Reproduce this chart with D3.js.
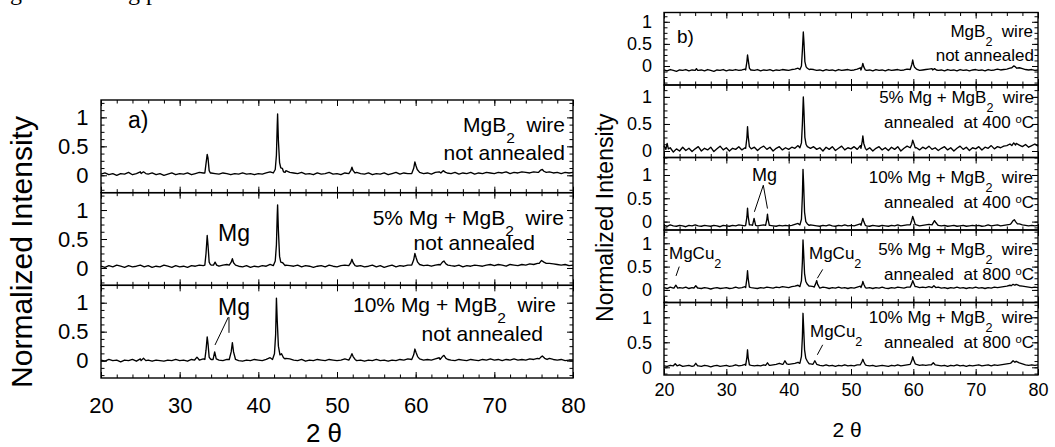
<!DOCTYPE html>
<html>
<head>
<meta charset="utf-8">
<script src="https://cdn.jsdelivr.net/npm/d3@7"></script>
<style>
  body { margin: 0; background: #fff; }
  svg { display: block; font-family: "Liberation Sans", Arial, sans-serif; }
</style>
</head>
<body>
<svg width="1055" height="447"></svg>
<script>
// ---- data ----
const gridStart = 20, gridStep = 0.5;   // baseline readings every 0.5 deg, 20..80
const xTicks = [20, 30, 40, 50, 60, 70, 80];
const yTicks = [0, 0.5, 1];

// panel a: not annealed wires
const baseA1 = [
  0.02,0.04,0.01,0.03,0.00,0.03,0.02,0.05,0.01,0.03,
  0.06,0.03,0.02,0.04,0.01,0.03,0.00,0.02,0.04,0.01,
  0.03,0.02,0.04,0.01,0.03,0.05,0.04,0.05,0.04,0.03,
  0.02,0.04,0.03,0.01,0.03,0.02,0.04,0.02,0.03,0.01,
  0.03,0.02,0.04,0.06,0.08,0.10,0.12,0.08,0.05,0.04,
  0.03,0.05,0.02,0.03,0.01,0.04,0.02,0.03,0.05,0.02,
  0.03,0.01,0.04,0.06,0.08,0.05,0.03,0.02,0.04,0.01,
  0.03,0.02,0.04,0.01,0.03,0.05,0.02,0.04,0.03,0.06,
  0.12,0.05,0.03,0.04,0.02,0.05,0.06,0.07,0.04,0.03,
  0.05,0.02,0.04,0.03,0.05,0.02,0.04,0.03,0.05,0.04,
  0.03,0.05,0.04,0.06,0.03,0.05,0.04,0.06,0.05,0.04,
  0.06,0.05,0.07,0.10,0.06,0.04,0.05,0.03,0.05,0.04,
  0.05
];
const peaksA1 = [
  [[25.1,0.03],[25.4,0.06],[25.7,0.03]],
  [[33.2,0.04],[33.35,0.2],[33.5,0.36],[33.6,0.3],[33.75,0.08],[33.9,0.04]],
  [[41.9,0.04],[42.15,0.1],[42.3,0.35],[42.4,0.85],[42.45,1.06],[42.55,0.6],[42.7,0.22],[42.85,0.13],[43.05,0.12],[43.2,0.06],[43.4,0.05]],
  [[51.5,0.03],[51.75,0.08],[51.9,0.14],[52.05,0.08],[52.3,0.04]],
  [[59.5,0.03],[59.75,0.12],[59.9,0.23],[60.05,0.16],[60.2,0.1],[60.5,0.05]],
  [[63.2,0.04],[63.5,0.08],[63.8,0.05]],
  [[75.6,0.05],[75.9,0.09],[76.1,0.1],[76.3,0.07],[76.6,0.05]]
];

const baseA2 = [
  0.03,0.01,0.04,0.02,0.05,0.03,0.01,0.04,0.02,0.03,
  0.05,0.02,0.04,0.01,0.03,0.02,0.05,0.03,0.01,0.04,
  0.02,0.03,0.01,0.04,0.03,0.05,0.04,0.06,0.05,0.04,
  0.03,0.05,0.06,0.08,0.04,0.03,0.02,0.04,0.01,0.03,
  0.02,0.04,0.03,0.06,0.10,0.10,0.08,0.05,0.04,0.03,
  0.05,0.02,0.04,0.03,0.01,0.03,0.04,0.02,0.05,0.03,
  0.02,0.04,0.05,0.08,0.05,0.03,0.04,0.02,0.03,0.05,
  0.02,0.04,0.01,0.03,0.05,0.02,0.04,0.03,0.05,0.06,
  0.10,0.06,0.04,0.05,0.03,0.05,0.06,0.08,0.05,0.04,
  0.03,0.05,0.02,0.04,0.03,0.05,0.04,0.03,0.05,0.06,
  0.04,0.06,0.05,0.03,0.06,0.05,0.04,0.06,0.05,0.07,
  0.06,0.08,0.10,0.12,0.08,0.07,0.06,0.05,0.06,0.04,
  0.05
];
const peaksA2 = [
  [[33.2,0.05],[33.35,0.25],[33.5,0.56],[33.6,0.4],[33.75,0.1],[33.9,0.06]],
  [[34.3,0.05],[34.5,0.1],[34.7,0.05]],
  [[36.3,0.05],[36.55,0.1],[36.7,0.16],[36.85,0.09],[37.1,0.05]],
  [[41.9,0.04],[42.15,0.12],[42.3,0.4],[42.4,0.9],[42.45,1.09],[42.55,0.65],[42.7,0.2],[42.85,0.1],[43.1,0.09],[43.4,0.04]],
  [[51.5,0.04],[51.75,0.09],[51.9,0.15],[52.05,0.09],[52.3,0.04]],
  [[59.5,0.05],[59.75,0.14],[59.9,0.25],[60.05,0.18],[60.25,0.1],[60.5,0.06]],
  [[63.1,0.05],[63.4,0.1],[63.6,0.12],[63.85,0.07],[64.1,0.05]],
  [[75.7,0.08],[76.0,0.13],[76.3,0.1],[76.6,0.08]]
];

const baseA3 = [
  0.01,-0.01,0.02,0.00,0.01,-0.02,0.01,0.00,0.02,-0.01,
  0.03,0.00,0.01,-0.01,0.01,0.00,-0.01,0.01,0.00,0.02,
  0.00,0.01,-0.01,0.02,0.01,0.00,0.03,0.05,0.02,0.04,
  0.01,0.00,0.02,0.04,0.01,0.00,-0.01,0.01,0.00,0.02,
  0.01,0.00,0.02,0.05,0.08,0.10,0.08,0.04,0.03,0.01,
  0.00,0.02,-0.01,0.01,0.00,0.02,0.01,0.00,0.02,0.01,
  0.00,0.01,0.03,0.06,0.02,0.00,0.01,-0.01,0.01,0.00,
  0.02,0.00,0.01,-0.01,0.01,0.00,0.02,0.01,0.03,0.05,
  0.10,0.03,0.01,0.02,0.01,0.03,0.05,0.06,0.03,0.01,
  0.00,0.02,0.01,0.00,0.02,0.01,0.00,0.02,0.01,0.03,
  0.01,0.02,0.00,0.02,0.01,0.03,0.01,0.02,0.01,0.03,
  0.02,0.04,0.06,0.07,0.04,0.02,0.01,0.02,0.00,0.01,
  0.01
];
const peaksA3 = [
  [[25.1,0.0],[25.4,0.04],[25.7,0.0]],
  [[31.9,0.01],[32.2,0.06],[32.5,0.01]],
  [[33.2,0.02],[33.35,0.18],[33.5,0.41],[33.6,0.3],[33.75,0.06],[33.9,0.03]],
  [[34.25,0.02],[34.45,0.15],[34.65,0.03]],
  [[36.3,0.02],[36.55,0.15],[36.7,0.31],[36.85,0.15],[37.1,0.02]],
  [[41.8,0.02],[42.05,0.12],[42.2,0.45],[42.3,1.08],[42.4,0.7],[42.55,0.25],[42.75,0.1],[42.95,0.12],[43.2,0.05],[43.4,0.03]],
  [[51.5,0.01],[51.75,0.07],[51.9,0.12],[52.05,0.07],[52.3,0.02]],
  [[59.5,0.02],[59.75,0.1],[59.9,0.2],[60.05,0.14],[60.25,0.07],[60.5,0.03]],
  [[63.1,0.02],[63.4,0.07],[63.6,0.09],[63.85,0.04],[64.1,0.02]],
  [[75.7,0.03],[76.0,0.07],[76.1,0.08],[76.4,0.04],[76.7,0.02]]
];

// panel b: annealing series
const baseB1 = [
  -0.09,-0.11,-0.08,-0.10,-0.12,-0.09,-0.10,-0.08,-0.11,-0.09,
  -0.07,-0.10,-0.09,-0.11,-0.08,-0.10,-0.12,-0.09,-0.10,-0.08,
  -0.11,-0.09,-0.10,-0.08,-0.10,-0.09,-0.07,-0.06,-0.09,-0.10,
  -0.08,-0.11,-0.09,-0.10,-0.08,-0.11,-0.09,-0.10,-0.08,-0.09,
  -0.10,-0.08,-0.07,-0.05,-0.03,-0.02,-0.04,-0.07,-0.08,-0.10,
  -0.09,-0.11,-0.08,-0.10,-0.09,-0.11,-0.08,-0.10,-0.09,-0.08,
  -0.10,-0.09,-0.07,-0.04,-0.08,-0.10,-0.09,-0.11,-0.08,-0.10,
  -0.09,-0.11,-0.08,-0.10,-0.09,-0.08,-0.10,-0.09,-0.07,-0.06,
  -0.05,-0.08,-0.10,-0.09,-0.08,-0.07,-0.06,-0.08,-0.10,-0.09,
  -0.11,-0.08,-0.10,-0.09,-0.11,-0.08,-0.10,-0.09,-0.11,-0.09,
  -0.08,-0.10,-0.09,-0.11,-0.08,-0.10,-0.09,-0.07,-0.09,-0.08,
  -0.07,-0.05,-0.03,-0.02,-0.04,-0.06,-0.08,-0.09,-0.08,-0.10,
  -0.09
];
const peaksB1 = [
  [[25.0,-0.1],[25.2,-0.06],[25.4,-0.1]],
  [[33.1,-0.09],[33.3,0.1],[33.4,0.25],[33.5,0.15],[33.7,-0.05],[33.9,-0.09]],
  [[41.8,-0.08],[42.05,0.0],[42.2,0.35],[42.35,0.77],[42.45,0.55],[42.6,0.1],[42.8,-0.02],[43.0,-0.05],[43.3,-0.08]],
  [[51.6,-0.09],[51.8,0.0],[51.9,0.06],[52.05,-0.02],[52.3,-0.09]],
  [[59.5,-0.08],[59.75,0.03],[59.9,0.135],[60.05,0.03],[60.2,-0.03],[60.5,-0.07]],
  [[63.1,-0.09],[63.4,-0.06],[63.7,-0.09]],
  [[75.8,-0.04],[76.1,0.0],[76.3,-0.01],[76.6,-0.05]]
];

const baseB2 = [
  0.10,0.02,0.06,-0.02,0.04,0.00,0.07,0.01,0.05,-0.01,
  0.04,0.08,0.00,0.05,0.02,0.07,-0.01,0.04,0.09,0.02,
  0.06,0.00,0.05,0.03,0.08,0.02,0.06,0.10,0.04,0.07,
  0.01,0.06,0.09,0.03,0.07,0.00,0.05,0.08,0.02,0.06,
  0.03,0.07,0.05,0.10,0.14,0.12,0.09,0.05,0.08,0.03,
  0.06,0.00,0.07,0.03,0.08,0.01,0.05,0.09,0.02,0.06,
  0.04,0.08,0.03,0.10,0.07,0.02,0.06,0.00,0.05,0.08,
  0.02,0.06,0.01,0.07,0.03,0.08,0.00,0.05,0.09,0.04,
  0.12,0.06,0.02,0.07,0.04,0.09,0.03,0.06,0.01,0.05,
  0.08,0.02,0.06,0.00,0.05,0.09,0.03,0.07,0.01,0.06,
  0.04,0.08,0.02,0.07,0.05,0.10,0.04,0.08,0.06,0.09,
  0.10,0.13,0.09,0.14,0.11,0.08,0.12,0.07,0.10,0.13,
  0.09
];
const peaksB2 = [
  [[20.3,0.03],[20.5,0.14],[20.7,0.04]],
  [[33.1,0.05],[33.3,0.25],[33.4,0.45],[33.5,0.28],[33.7,0.08]],
  [[41.8,0.06],[42.05,0.15],[42.2,0.5],[42.35,1.0],[42.45,0.75],[42.6,0.25],[42.8,0.12],[43.0,0.08]],
  [[51.6,0.05],[51.8,0.18],[51.9,0.28],[52.05,0.14],[52.3,0.05]],
  [[59.5,0.06],[59.75,0.12],[59.9,0.2],[60.05,0.15],[60.3,0.06]],
  [[75.8,0.1],[76.1,0.15],[76.4,0.11]]
];

const baseB3 = [
  -0.08,-0.10,-0.07,-0.09,-0.10,-0.08,-0.09,-0.11,-0.08,-0.09,
  -0.07,-0.09,-0.10,-0.08,-0.09,-0.10,-0.08,-0.09,-0.11,-0.08,
  -0.09,-0.10,-0.08,-0.09,-0.07,-0.08,-0.09,-0.06,-0.07,-0.08,
  -0.09,-0.08,-0.07,-0.05,-0.08,-0.09,-0.10,-0.08,-0.09,-0.08,
  -0.09,-0.08,-0.06,-0.04,-0.02,-0.03,-0.05,-0.07,-0.08,-0.09,
  -0.10,-0.08,-0.09,-0.07,-0.09,-0.10,-0.08,-0.09,-0.07,-0.09,
  -0.08,-0.09,-0.07,-0.05,-0.08,-0.09,-0.10,-0.08,-0.09,-0.10,
  -0.08,-0.09,-0.10,-0.08,-0.09,-0.07,-0.09,-0.08,-0.07,-0.06,
  -0.05,-0.07,-0.09,-0.08,-0.07,-0.06,-0.05,-0.06,-0.08,-0.09,
  -0.08,-0.10,-0.09,-0.08,-0.10,-0.09,-0.08,-0.10,-0.09,-0.08,
  -0.09,-0.08,-0.10,-0.09,-0.07,-0.09,-0.08,-0.07,-0.09,-0.08,
  -0.07,-0.06,-0.04,-0.03,-0.05,-0.07,-0.08,-0.09,-0.08,-0.09,
  -0.08
];
const peaksB3 = [
  [[33.1,-0.08],[33.3,0.1],[33.4,0.29],[33.5,0.12],[33.7,-0.07]],
  [[34.2,-0.08],[34.45,0.07],[34.7,-0.08]],
  [[36.3,-0.08],[36.5,0.05],[36.6,0.16],[36.7,0.05],[36.9,-0.08]],
  [[41.8,-0.07],[42.05,0.05],[42.2,0.55],[42.3,1.12],[42.4,0.8],[42.55,0.2],[42.75,0.0],[43.0,-0.05],[43.3,-0.08]],
  [[51.6,-0.08],[51.8,0.02],[51.9,0.07],[52.05,0.0],[52.3,-0.08]],
  [[59.5,-0.07],[59.75,0.03],[59.9,0.11],[60.05,0.05],[60.3,-0.06]],
  [[63.0,-0.07],[63.3,0.0],[63.4,0.02],[63.6,-0.02],[63.9,-0.07]],
  [[75.7,-0.04],[76.0,0.02],[76.2,0.04],[76.4,0.0],[76.7,-0.05]]
];

const baseB4 = [
  0.05,0.03,0.06,0.04,0.03,0.05,0.04,0.06,0.03,0.05,
  0.06,0.04,0.03,0.05,0.04,0.02,0.04,0.05,0.03,0.04,
  0.05,0.03,0.04,0.06,0.04,0.05,0.07,0.08,0.05,0.04,
  0.03,0.05,0.04,0.06,0.05,0.04,0.06,0.05,0.07,0.06,
  0.05,0.07,0.08,0.10,0.12,0.13,0.10,0.08,0.07,0.05,
  0.04,0.06,0.05,0.03,0.05,0.04,0.06,0.04,0.05,0.03,
  0.05,0.04,0.06,0.08,0.06,0.04,0.05,0.03,0.05,0.04,
  0.06,0.04,0.03,0.05,0.04,0.06,0.05,0.04,0.06,0.07,
  0.10,0.07,0.05,0.06,0.05,0.07,0.06,0.05,0.06,0.04,
  0.05,0.03,0.05,0.04,0.06,0.04,0.05,0.03,0.05,0.04,
  0.06,0.04,0.05,0.03,0.05,0.04,0.06,0.05,0.06,0.07,
  0.08,0.10,0.11,0.12,0.09,0.08,0.07,0.06,0.05,0.06,
  0.05
];
const peaksB4 = [
  [[21.6,0.04],[21.9,0.1],[22.2,0.04]],
  [[24.8,0.04],[25.1,0.09],[25.4,0.04]],
  [[33.1,0.05],[33.3,0.25],[33.4,0.41],[33.5,0.25],[33.7,0.06]],
  [[41.8,0.07],[42.05,0.2],[42.2,0.6],[42.3,1.07],[42.4,0.8],[42.55,0.35],[42.75,0.18],[43.0,0.12],[43.3,0.08]],
  [[44.1,0.06],[44.35,0.14],[44.5,0.2],[44.65,0.12],[44.9,0.06]],
  [[51.6,0.05],[51.8,0.12],[51.9,0.18],[52.05,0.12],[52.3,0.05]],
  [[59.5,0.06],[59.75,0.13],[59.9,0.2],[60.05,0.15],[60.3,0.07]],
  [[63.0,0.05],[63.3,0.09],[63.6,0.05]],
  [[75.7,0.09],[76.0,0.12],[76.3,0.1]]
];

const baseB5 = [
  0.03,0.02,0.04,0.02,0.03,0.05,0.02,0.03,0.04,0.02,
  0.04,0.03,0.02,0.04,0.03,0.01,0.03,0.04,0.02,0.03,
  0.04,0.02,0.03,0.05,0.03,0.04,0.06,0.08,0.04,0.03,
  0.04,0.03,0.05,0.07,0.04,0.05,0.06,0.08,0.06,0.05,
  0.06,0.07,0.08,0.10,0.12,0.14,0.10,0.07,0.06,0.05,
  0.04,0.03,0.05,0.03,0.04,0.02,0.04,0.03,0.05,0.03,
  0.04,0.03,0.05,0.07,0.05,0.04,0.03,0.04,0.02,0.03,
  0.04,0.03,0.02,0.04,0.03,0.05,0.03,0.04,0.05,0.06,
  0.10,0.06,0.04,0.05,0.04,0.05,0.06,0.05,0.04,0.03,
  0.04,0.02,0.04,0.03,0.05,0.03,0.04,0.02,0.04,0.03,
  0.04,0.05,0.03,0.04,0.05,0.03,0.05,0.04,0.05,0.06,
  0.07,0.08,0.10,0.12,0.09,0.07,0.05,0.04,0.05,0.04,
  0.05
];
const peaksB5 = [
  [[21.5,0.03],[21.8,0.07],[22.1,0.03]],
  [[24.8,0.03],[25.1,0.08],[25.4,0.03]],
  [[33.1,0.04],[33.3,0.2],[33.4,0.35],[33.5,0.2],[33.7,0.05]],
  [[36.3,0.04],[36.6,0.09],[36.9,0.04]],
  [[39.1,0.06],[39.4,0.13],[39.7,0.07]],
  [[41.8,0.08],[42.05,0.22],[42.2,0.6],[42.3,1.08],[42.4,0.8],[42.55,0.35],[42.75,0.18],[43.0,0.12],[43.3,0.07]],
  [[43.9,0.06],[44.2,0.13],[44.5,0.06]],
  [[51.5,0.05],[51.75,0.11],[51.9,0.16],[52.05,0.11],[52.3,0.05]],
  [[59.5,0.06],[59.75,0.13],[59.9,0.21],[60.05,0.15],[60.3,0.07]],
  [[62.9,0.05],[63.2,0.09],[63.5,0.05]],
  [[75.7,0.09],[76.0,0.13],[76.3,0.1]]
];

// sample captions (line 1 parts, line 2)
const namesA = [
  [['MgB', ['2', 'sub'], '  wire'], ['not annealed']],
  [['5% Mg + MgB', ['2', 'sub'], '  wire'], ['not annealed']],
  [['10% Mg + MgB', ['2', 'sub'], '  wire'], ['not annealed']]
];
const namesB = [
  [['MgB', ['2', 'sub'], '  wire'], ['not annealed']],
  [['5% Mg + MgB', ['2', 'sub'], '  wire'], ['annealed  at 400 ', ['o', 'sup'], 'C']],
  [['10% Mg + MgB', ['2', 'sub'], '  wire'], ['annealed  at 400 ', ['o', 'sup'], 'C']],
  [['5% Mg + MgB', ['2', 'sub'], '  wire'], ['annealed  at 800 ', ['o', 'sup'], 'C']],
  [['10% Mg + MgB', ['2', 'sub'], '  wire'], ['annealed  at 800 ', ['o', 'sup'], 'C']]
];

// ---- drawing ----
const svg = d3.select('svg');

function trace(base, peaks) {
  const pts = base.map((v, i) => [gridStart + i * gridStep, v])
    .filter(([x]) => !peaks.some(p => x >= p[0][0] && x <= p[p.length - 1][0]));
  peaks.forEach(p => pts.push(...p));
  return pts.sort((a, b) => a[0] - b[0]);
}

function richText(g, x, y, parts, size, anchor) {
  const t = g.append('text')
    .attr('x', x).attr('y', y)
    .attr('font-size', size)
    .attr('text-anchor', anchor || 'start')
    .style('white-space', 'pre');
  let pending = 0;
  parts.forEach(part => {
    const sp = t.append('tspan');
    if (typeof part === 'string') {
      sp.text(part);
      if (pending) sp.attr('dy', pending);
      pending = 0;
    } else {
      const sub = part[1] === 'sub';
      const shift = sub ? size * 0.52 : -size * 0.32;
      sp.text(part[0])
        .attr('font-size', size * (sub ? 0.74 : 0.66))
        .attr('dy', shift + pending);
      pending = -shift;
    }
  });
  return t;
}

function drawPanel(p) {
  const x = d3.scaleLinear().domain([20, 80]).range([p.left, p.right]);
  const h = (p.bottom - p.top) / p.series.length;
  const minorX = d3.range(20, 80.001, p.minorX);

  const subs = p.series.map((s, i) => {
    const top = p.top + i * h, bot = top + h;
    const y = d3.scaleLinear().domain(s.domain).range([bot, top]);
    const g = svg.append('g');
    const minorY = d3.range(-0.5, 1.5, 0.125).filter(v => v >= s.domain[0] && v <= s.domain[1]);

    const tick = (axis, tr, vals, len, fmt) => {
      const a = g.append('g').attr('transform', tr)
        .call(axis.tickValues(vals).tickSize(-len).tickFormat(fmt || ''));
      a.select('.domain').remove();
      a.selectAll('line').attr('stroke', '#000').attr('stroke-width', 1);
      a.attr('font-family', null).attr('font-size', p.tickFont);
      a.selectAll('text').attr('fill', '#000');
      return a;
    };
    // inward ticks on all four sides
    tick(d3.axisTop(x), `translate(0,${top})`, xTicks, 6);
    tick(d3.axisTop(x), `translate(0,${top})`, minorX, 3.5);
    tick(d3.axisBottom(x).tickPadding(p.xPad), `translate(0,${bot})`, xTicks, 6,
      i === p.series.length - 1 ? (d => d) : '');
    tick(d3.axisBottom(x), `translate(0,${bot})`, minorX, 3.5);
    tick(d3.axisLeft(y).tickPadding(p.yPad), `translate(${p.left},0)`, yTicks, 6, d => d);
    tick(d3.axisLeft(y), `translate(${p.left},0)`, minorY, 3.5);
    tick(d3.axisRight(y), `translate(${p.right},0)`, yTicks, 6);
    tick(d3.axisRight(y), `translate(${p.right},0)`, minorY, 3.5);

    g.append('path')
      .datum(trace(s.base, s.peaks))
      .attr('fill', 'none')
      .attr('stroke', '#000')
      .attr('stroke-width', 1.35)
      .attr('stroke-linejoin', 'round')
      .attr('d', d3.line().x(d => x(d[0])).y(d => y(d[1])));

    g.append('rect')
      .attr('x', p.left).attr('y', top)
      .attr('width', p.right - p.left).attr('height', h)
      .attr('fill', 'none').attr('stroke', '#000').attr('stroke-width', 1.4);

    const [l1, l2] = s.name;
    const lay = p.captions[i];
    richText(g, p.right - lay[0], top + lay[1], l1, p.noteFont, 'end');
    richText(g, p.right - lay[2], top + lay[3], l2, p.noteFont, 'end');
    return { g, y, top };
  });

  svg.append('text')
    .attr('transform', `translate(${p.yTitleX},${(p.top + p.bottom) / 2 + p.yTitleDy}) rotate(-90)`)
    .attr('text-anchor', 'middle')
    .attr('font-size', p.yTitleFont)
    .text('Normalized Intensity');

  svg.append('text')
    .attr('x', p.xTitleX).attr('y', p.xTitleY)
    .attr('text-anchor', 'middle')
    .attr('font-size', p.xTitleFont)
    .style('white-space', 'pre')
    .text('2 θ');

  return { x, subs };
}

const pa = drawPanel({
  left: 101, right: 573, top: 100, bottom: 378,
  minorX: 2, tickFont: 22, xPad: 19, yPad: 12.5, noteFont: 21,
  yTitleX: 32, yTitleDy: 13, yTitleFont: 30,
  xTitleX: 324, xTitleY: 442, xTitleFont: 26,
  captions: [[8, 31.7, 8, 60], [9, 32.5, 38, 57.3], [17, 26.7, 30, 55.7]],
  series: [
    { base: baseA1, peaks: peaksA1, domain: [-0.3, 1.3], name: namesA[0] },
    { base: baseA2, peaks: peaksA2, domain: [-0.3, 1.3], name: namesA[1] },
    { base: baseA3, peaks: peaksA3, domain: [-0.3, 1.3], name: namesA[2] }
  ]
});

const pb = drawPanel({
  left: 664, right: 1038, top: 12.5, bottom: 375,
  minorX: 2.5, tickFont: 18, xPad: 8, yPad: 12, noteFont: 17,
  yTitleX: 613, yTitleDy: 24, yTitleFont: 23,
  xTitleX: 847, xTitleY: 437, xTitleFont: 21,
  captions: [[5, 24.8, 4, 48.5], [4, 18.3, 4, 43.3], [5, 25.8, 4, 50.8], [5, 25, 4, 50], [5, 20.8, 4, 45.8]],
  series: [
    { base: baseB1, peaks: peaksB1, domain: [-0.43, 1.21], name: namesB[0] },
    { base: baseB2, peaks: peaksB2, domain: [-0.12, 1.22], name: namesB[1] },
    { base: baseB3, peaks: peaksB3, domain: [-0.18, 1.375], name: namesB[2] },
    { base: baseB4, peaks: peaksB4, domain: [-0.27, 1.285], name: namesB[3] },
    { base: baseB5, peaks: peaksB5, domain: [-0.154, 1.296], name: namesB[4] }
  ]
});

// panel letters and phase markers
const pointer = (g, x, y, a, b) => g.append('line')
  .attr('x1', x(a[0])).attr('y1', y(a[1]))
  .attr('x2', x(b[0])).attr('y2', y(b[1]))
  .attr('stroke', '#000').attr('stroke-width', 1);

svg.append('text').attr('x', 128).attr('y', 128).attr('font-size', 23).text('a)');
svg.append('text').attr('x', 677).attr('y', 43).attr('font-size', 19).text('b)');

{
  const s1 = pa.subs[1], s2 = pa.subs[2];
  s1.g.append('text').attr('x', 218).attr('y', s1.top + 48).attr('font-size', 23).text('Mg');
  s2.g.append('text').attr('x', 218).attr('y', s2.top + 29.7).attr('font-size', 23).text('Mg');
  pointer(s2.g, pa.x, s2.y, [36.18, 0.75], [34.49, 0.27]);
  pointer(s2.g, pa.x, s2.y, [36.27, 0.75], [36.27, 0.48]);
}
{
  const s3 = pb.subs[2], s4 = pb.subs[3], s5 = pb.subs[4];
  s3.g.append('text').attr('x', 752).attr('y', s3.top + 23.2).attr('font-size', 18).text('Mg');
  pointer(s3.g, pb.x, s3.y, [35.93, 0.78], [34.5, 0.21]);
  pointer(s3.g, pb.x, s3.y, [35.93, 0.78], [36.6, 0.28]);

  richText(s4.g, 669, s4.top + 29.3, ['MgCu', ['2', 'sub']], 17);
  pointer(s4.g, pb.x, s4.y, [22.45, 0.5], [21.93, 0.3]);
  richText(s4.g, 809, s4.top + 29.3, ['MgCu', ['2', 'sub']], 17);
  pointer(s4.g, pb.x, s4.y, [45.46, 0.44], [44.6, 0.25]);

  richText(s5.g, 810, s5.top + 34.2, ['MgCu', ['2', 'sub']], 17);
  pointer(s5.g, pb.x, s5.y, [45.46, 0.45], [44.6, 0.25]);
}

// cropped caption line above the figure (only descenders visible)
svg.append('text').attr('x', 10).attr('y', 0).attr('font-size', 24)
  .attr('font-family', '"Liberation Serif", serif').text('g');
svg.append('text').attr('x', 128).attr('y', 0).attr('font-size', 24)
  .attr('font-family', '"Liberation Serif", serif').style('white-space', 'pre').text('g p');
</script>
</body>
</html>
